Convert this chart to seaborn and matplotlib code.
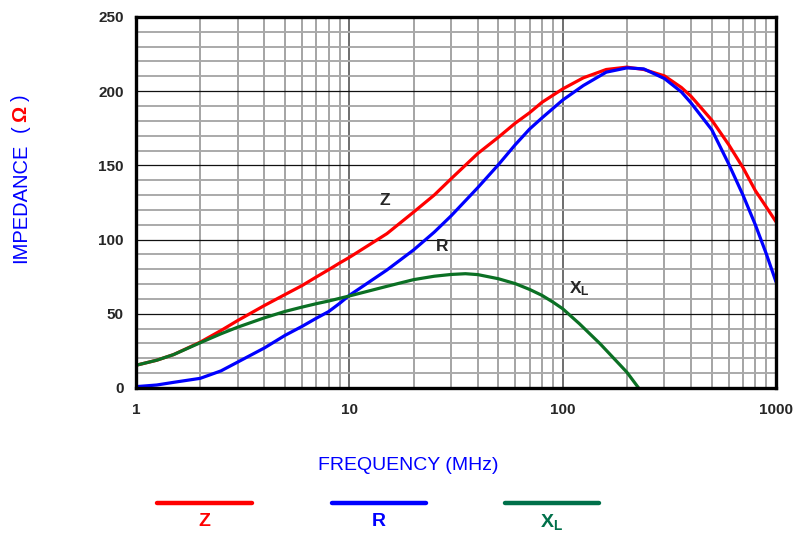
import matplotlib
matplotlib.use('Agg')
import matplotlib.pyplot as plt
import seaborn as sns
import pandas as pd
from matplotlib.lines import Line2D

# Frequencies (MHz) and values
freq = [1, 1.25, 1.5, 2, 2.5, 3, 4, 5, 6, 7, 8, 9, 10, 15, 20, 25, 30, 40, 50, 60,
        70, 80, 100, 125, 160, 200, 240, 300, 360, 400, 500, 600, 700, 800, 900, 1000]
z_vals = [15.3, 18.7, 22.5, 30.9, 38.7, 45.5, 55.6, 63, 69, 74.8, 79.7, 84.2, 88,
          104, 118.5, 130, 141, 158, 169, 178.5, 185.5, 192.5, 201.5, 209, 214.6,
          216.2, 214.6, 210.3, 202.5, 196.5, 180.5, 164, 148.5, 133, 122, 112]
r_vals = [0.9, 2, 3.8, 6.5, 11.5, 17.5, 27, 35.5, 41.5, 47, 51.5, 57, 62.4,
          79.5, 93, 105, 116, 135, 150.5, 164, 174.5, 182, 194, 203.8, 212.8,
          215.7, 215, 208.5, 199.5, 192, 174, 151, 130, 110, 90.5, 71.5]
xl_freq = [1, 1.25, 1.5, 2, 2.5, 3, 4, 5, 6, 7, 8, 9, 10, 15, 20, 25, 30, 35, 40,
           50, 60, 70, 80, 90, 100, 120, 150, 200, 227]
xl_vals = [15.3, 18.7, 22.5, 30.5, 36.5, 41, 47.3, 51.6, 54.5, 56.8, 58.6, 60.4, 62,
           68.5, 73, 75.3, 76.5, 77, 76.4, 73.6, 70.3, 66.4, 62.4, 57.9, 53.4, 43.2,
           29.7, 10.6, 0]

series_names = ['Z', 'R', 'X$_\\mathrm{L}$']
series_colors = ['#ff0000', '#0000ff', '#0b7024']
legend_colors = ['#ff0000', '#0000ff', '#00704a']

y_ticks = [0, 50, 100, 150, 200, 250]
x_ticks = [1, 10, 100, 1000]
x_tick_labels = ['1', '10', '100', '1000']

sns.set_style('white')
plt.rcParams['font.family'] = ['Liberation Sans', 'DejaVu Sans']
plt.rcParams['mathtext.fontset'] = 'custom'
plt.rcParams['mathtext.rm'] = 'Liberation Sans:bold'
plt.rcParams['mathtext.default'] = 'rm'

df_z = pd.DataFrame({'freq': freq, 'val': z_vals})
df_r = pd.DataFrame({'freq': freq, 'val': r_vals})
df_xl = pd.DataFrame({'freq': xl_freq, 'val': xl_vals})

fig = plt.figure(figsize=(7.95, 5.37), dpi=100)
ax = fig.add_axes([0.1711, 0.2775, 0.805, 0.6909])

line_kw = dict(linewidth=2.3, solid_joinstyle='round', solid_capstyle='round')
sns.lineplot(data=df_z, x='freq', y='val', ax=ax, color=series_colors[0], **line_kw)
sns.lineplot(data=df_r, x='freq', y='val', ax=ax, color=series_colors[1], **line_kw)
sns.lineplot(data=df_xl, x='freq', y='val', ax=ax, color=series_colors[2], **line_kw)

ax.set_xscale('log')
ax.set_xlim(1, 1000)
ax.set_ylim(0, 250)
ax.set_xticks(x_ticks, labels=x_tick_labels)
ax.set_yticks(y_ticks)
ax.set_yticks(range(0, 251, 10), minor=True)
ax.set_xlabel('')
ax.set_ylabel('')

# grid: decade / 50 lines darker, the rest lighter
ax.xaxis.grid(True, which='major', color='#555555', linewidth=1.2)
ax.xaxis.grid(True, which='minor', color='#8c8c8c', linewidth=1.1)
ax.yaxis.grid(True, which='major', color='#111111', linewidth=0.9)
ax.yaxis.grid(True, which='minor', color='#aaaaaa', linewidth=1.4)
ax.set_axisbelow(True)

ax.tick_params(which='major', length=5, width=1.5, color='black', direction='out')
ax.tick_params(which='minor', length=0)
for lab in ax.get_xticklabels() + ax.get_yticklabels():
    lab.set_fontweight('bold')
    lab.set_fontsize(11)
ax.tick_params(axis='x', pad=6)
ax.tick_params(axis='y', pad=4)

for side in ['left', 'bottom', 'top', 'right']:
    ax.spines[side].set_visible(True)
    ax.spines[side].set_linewidth(2.4)
    ax.spines[side].set_color('black')

# curve labels
ax.text(14.6, 126, 'Z', fontsize=12.5, fontweight='bold', ha='center', va='center')
ax.text(27.1, 95, 'R', fontsize=12.5, fontweight='bold', ha='center', va='center')
ax.text(120, 67, 'X$_\\mathrm{L}$', fontsize=12.5, fontweight='bold', ha='center', va='center')

# axis titles
fig.text(0.513, 0.134, 'FREQUENCY (MHz)', color='#0000ff', fontsize=14,
         ha='center', va='center')
fig.text(0.026, 0.622, 'IMPEDANCE', color='#0000ff', fontsize=14.5,
         rotation=90, ha='center', va='center')
fig.text(0.026, 0.760, '(', color='#0000ff', fontsize=14.5,
         rotation=90, ha='center', va='center')
fig.text(0.026, 0.788, 'Ω', color='#ff0000', fontsize=14.5, fontweight='bold',
         rotation=90, ha='center', va='center')
fig.text(0.026, 0.819, ')', color='#0000ff', fontsize=14.5,
         rotation=90, ha='center', va='center')

# legend below the plot: line over label
legend_x = [(0.1975, 0.317), (0.4176, 0.5358), (0.635, 0.753)]
for (x0, x1), name, col in zip(legend_x, series_names, legend_colors):
    fig.add_artist(Line2D([x0, x1], [0.0633, 0.0633], color=col, linewidth=3.2,
                          solid_capstyle='round', transform=fig.transFigure))
    fig.text((x0 + x1) / 2, 0.028, name, color=col, fontsize=14, fontweight='bold',
             ha='center', va='center')

fig.savefig('out.png', dpi=100)
